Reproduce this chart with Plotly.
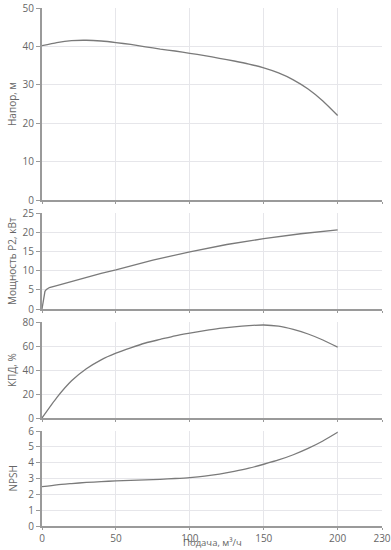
import plotly.graph_objects as go
from plotly.subplots import make_subplots

# Flow rate (m3/h)
q = [0, 10, 20, 30, 40, 50, 60, 70, 80, 90, 100, 110, 120, 130, 140, 150, 160, 170, 180, 190, 200]
head = [40.2, 41.0, 41.5, 41.6, 41.4, 41.0, 40.5, 39.9, 39.3, 38.8, 38.2, 37.6, 36.9, 36.2, 35.4, 34.4, 33.1, 31.3, 28.9, 25.8, 22.0]
eff = [0, 17, 31, 41, 48.5, 54, 58.5, 62.5, 65.5, 68.5, 70.8, 72.8, 74.6, 76, 77, 77.5, 76.5, 73.8, 70, 65, 59]
npsh = [2.48, 2.6, 2.68, 2.75, 2.8, 2.85, 2.88, 2.91, 2.95, 3.0, 3.06, 3.15, 3.28, 3.45, 3.65, 3.9, 4.17, 4.5, 4.9, 5.37, 5.92]

q_pow = [0, 1, 2, 3, 5, 10, 20, 30, 40, 50, 75, 100, 125, 150, 175, 200]
power = [0, 2.5, 4.6, 5.1, 5.6, 6.1, 7.2, 8.3, 9.3, 10.2, 12.7, 14.9, 16.8, 18.3, 19.6, 20.6]

x_ticks = [0, 50, 100, 150, 200, 230]
y_titles = ["Напор, м", "Мощность P2, кВт", "КПД, %", "NPSH"]
y_ranges = [[0, 50], [0, 25], [0, 80], [0, 6]]
y_dticks = [10, 5, 20, 1]

fig = make_subplots(rows=4, cols=1, shared_xaxes=False)

line = dict(color="#7a7a7a", width=1.3, shape="spline", smoothing=0.6)
fig.add_trace(go.Scatter(x=q, y=head, mode="lines", line=line, hoverinfo="skip"), row=1, col=1)
fig.add_trace(go.Scatter(x=q_pow, y=power, mode="lines", line=dict(color="#7a7a7a", width=1.3), hoverinfo="skip"), row=2, col=1)
fig.add_trace(go.Scatter(x=q, y=eff, mode="lines", line=line, hoverinfo="skip"), row=3, col=1)
fig.add_trace(go.Scatter(x=q, y=npsh, mode="lines", line=line, hoverinfo="skip"), row=4, col=1)

H = 550
t, b = 8, 24
ph = H - t - b
pix = [(8, 200), (213, 309), (322, 418), (431, 526)]
domains = [[(526 - bot) / ph, (526 - top) / ph] for top, bot in pix]

tickfont = dict(family="Open Sans", size=10, color="#666666")
for i in range(4):
    xa = "xaxis" if i == 0 else f"xaxis{i+1}"
    ya = "yaxis" if i == 0 else f"yaxis{i+1}"
    fig.layout[xa].update(
        range=[0, 230], tickvals=x_ticks, showticklabels=(i == 3),
        showgrid=True, gridcolor="#e6e6ea", gridwidth=1,
        showline=True, linecolor="#9a9a9a", linewidth=2,
        ticks="outside", ticklen=2, tickcolor="#9a9a9a",
        zeroline=False, tickfont=tickfont, domain=[0, 1], automargin=False,
    )
    fig.layout[ya].update(
        range=y_ranges[i], dtick=y_dticks[i], tick0=0, domain=domains[i],
        showgrid=True, gridcolor="#e6e6ea", gridwidth=1,
        showline=True, linecolor="#9a9a9a", linewidth=2,
        ticks="outside", ticklen=4, tickcolor="#9a9a9a",
        zeroline=False, tickfont=tickfont, automargin=False,
    )
    cy = (domains[i][0] + domains[i][1]) / 2
    fig.add_annotation(text=y_titles[i], xref="paper", yref="paper",
                       x=(12 - 42) / 340, y=cy, xanchor="center", yanchor="middle",
                       textangle=-90, showarrow=False,
                       font=dict(family="Open Sans", size=10, color="#666666"))

fig.add_annotation(text="Подача, м³/ч", xref="paper", yref="paper", x=0.5, y=0,
                   xanchor="center", yanchor="bottom", yshift=-24, showarrow=False,
                   borderpad=0,
                   font=dict(family="Open Sans", size=9.5, color="#666666"))

fig.update_layout(width=391, height=550, showlegend=False,
                  margin=dict(l=42, r=9, t=t, b=b, autoexpand=False),
                  plot_bgcolor="white", paper_bgcolor="white")

fig.write_html("out.html")
